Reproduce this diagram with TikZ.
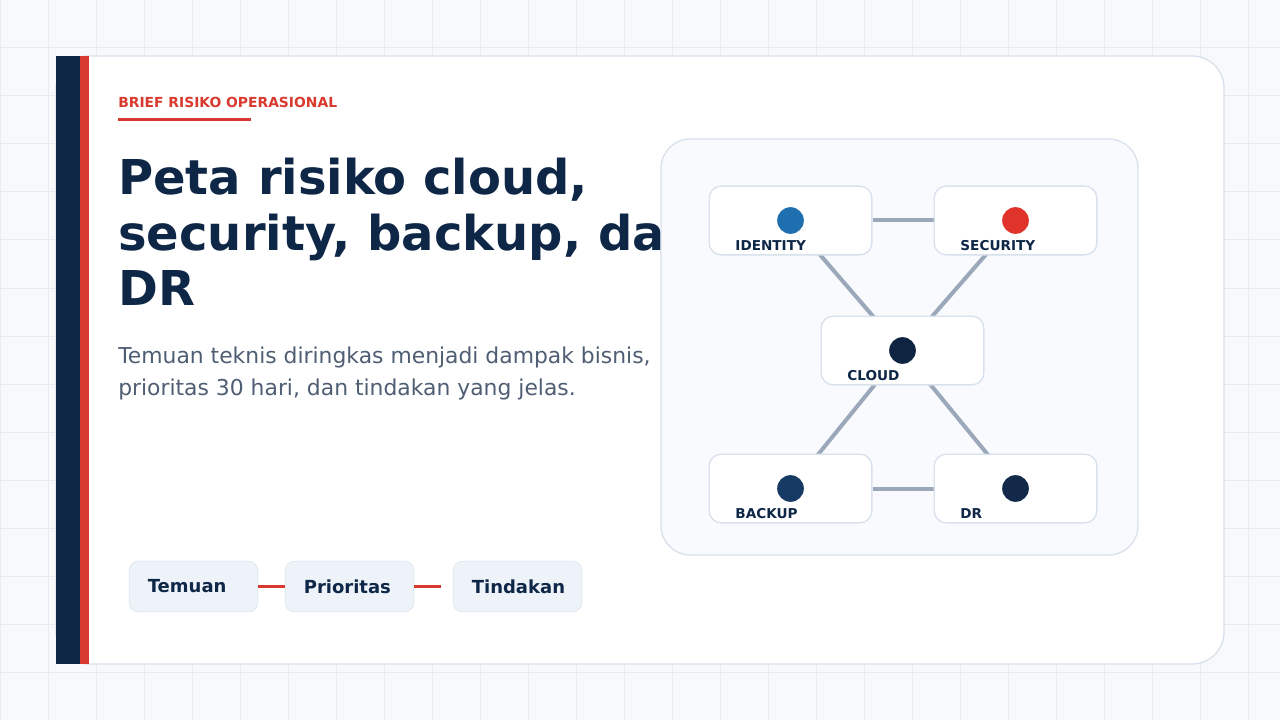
\documentclass[tikz,border=0pt]{standalone}
\usepackage{fontspec}
\setmainfont{DejaVu Sans}
\usepackage{xcolor}
\usepackage{tikz}
\usetikzlibrary{positioning}
\definecolor{inknavy}{HTML}{0F2747}
\definecolor{alertred}{HTML}{D93A2F}
\definecolor{mutedtext}{HTML}{4F5E73}
\definecolor{gridline}{HTML}{E6EDF2}
\definecolor{pagebg}{HTML}{F7F9FB}
\definecolor{frameline}{HTML}{D8E1EC}
\definecolor{panelbg}{HTML}{F8FAFD}
\definecolor{linkgray}{HTML}{9AA8BA}
\definecolor{pillbg}{HTML}{EEF3FA}
\definecolor{idblue}{HTML}{1F6FB0}
\definecolor{secred}{HTML}{E0332B}
\definecolor{clouddark}{HTML}{0F2440}
\definecolor{backupblue}{HTML}{163A63}
\definecolor{drdark}{HTML}{12294A}
\pgfdeclarelayer{back}
\pgfdeclarelayer{edges}
\pgfsetlayers{back,edges,main}

\begin{document}
\begin{tikzpicture}[
        x=0.75pt, y=-0.75pt,
        box/.style={rectangle, draw=frameline, fill=white, rounded corners=9pt, line width=1pt, minimum width=122pt, minimum height=51.5pt},
        tag/.style={anchor=base west, font=\bfseries\fontsize{10.2}{12}\selectfont, text=inknavy, inner sep=0pt},
        link/.style={draw=linkgray, line width=3pt},
        pill/.style={rectangle, draw=frameline, fill=pillbg, rounded corners=7pt, minimum width=96.5pt, minimum height=38pt, text width=68.5pt, inner xsep=14pt, align=left, font=\bfseries\fontsize{13.5}{15}\selectfont, text=inknavy}
    ]
    \useasboundingbox (0,0) rectangle (1280,720);
    \begin{pgfonlayer}{back}
        \fill[pagebg] (0,0) rectangle (1280,720);
        \foreach \k in {0,48,...,1280} \draw[gridline, line width=0.75pt] (\k,0) -- (\k,720);
        \foreach \k in {0,48,...,720} \draw[gridline, line width=0.75pt] (0,\k) -- (1280,\k);
        \draw[frameline, fill=white, line width=1pt, rounded corners=24pt] (56,56) rectangle (1224,664);
        \fill[inknavy] (56,56) rectangle (80,664);
        \fill[alertred] (80,56) rectangle (89,664);
        % headline
        \node[anchor=base west, inner sep=0pt, text=alertred, font=\bfseries\fontsize{10.4}{12}\selectfont] (kicker) at (118,108) {BRIEF RISIKO OPERASIONAL};
        \draw[alertred, line width=2.25pt] (118,120) -- (251,120);
        \node[anchor=base west, inner sep=0pt, text=inknavy, font=\bfseries\fontsize{36}{41}\selectfont] (title1) at (118,195) {Peta risiko cloud,};
        \node[anchor=base west, inner sep=0pt, text=inknavy, font=\bfseries\fontsize{36}{41}\selectfont] (title2) at (118,250) {security, backup, dan};
        \node[anchor=base west, inner sep=0pt, text=inknavy, font=\bfseries\fontsize{36}{41}\selectfont] (title3) at (118,305) {DR};
        \node[anchor=base west, inner sep=0pt, text=mutedtext, font=\fontsize{16.4}{19}\selectfont] (sub1) at (118,363) {Temuan teknis diringkas menjadi dampak bisnis,};
        \node[anchor=base west, inner sep=0pt, text=mutedtext, font=\fontsize{16.4}{19}\selectfont] (sub2) at (118,395) {prioritas 30 hari, dan tindakan yang jelas.};
        % map panel
        \draw[frameline, fill=panelbg, line width=1pt, rounded corners=22pt] (661,139) rectangle (1138,555);
    \end{pgfonlayer}

    \node[box] (idn) at (790.5,220.5) {};
    \node[box] (sec) at (1015.5,220.5) {};
    \node[box] (cld) at (902.5,350.5) {};
    \node[box] (bak) at (790.5,488.5) {};
    \node[box] (dr) at (1015.5,488.5) {};

    \fill[idblue] (idn.center) circle (10pt);
    \fill[secred] (sec.center) circle (10pt);
    \fill[clouddark] (cld.center) circle (10pt);
    \fill[backupblue] (bak.center) circle (10pt);
    \fill[drdark] (dr.center) circle (10pt);

    \node[tag, xshift=20pt, yshift=3.75pt] at (idn.south west) {IDENTITY};
    \node[tag, xshift=20pt, yshift=3.75pt] at (sec.south west) {SECURITY};
    \node[tag, xshift=20pt, yshift=3.75pt] at (cld.south west) {CLOUD};
    \node[tag, xshift=20pt, yshift=3.75pt] at (bak.south west) {BACKUP};
    \node[tag, xshift=20pt, yshift=3.75pt] at (dr.south west) {DR};

    \begin{pgfonlayer}{edges}
        \draw[link] (idn) -- (sec);
        \draw[link] (idn.center) -- (cld.center);
        \draw[link] (sec.center) -- (cld.center);
        \draw[link] (cld.center) -- (bak.center);
        \draw[link] (cld.center) -- (dr.center);
        \draw[link] (bak) -- (dr);
    \end{pgfonlayer}

    % steps
    \node[pill] (find) at (193.5,586.5) {Temuan};
    \node[pill] (prio) at (349.5,586.5) {Prioritas};
    \node[pill] (act) at (517.5,586.5) {Tindakan};
    \draw[alertred, line width=2.25pt] (find) -- (prio);
    \draw[alertred, line width=2.25pt, shorten >=9pt] (prio) -- (act);
\end{tikzpicture}
\end{document}
